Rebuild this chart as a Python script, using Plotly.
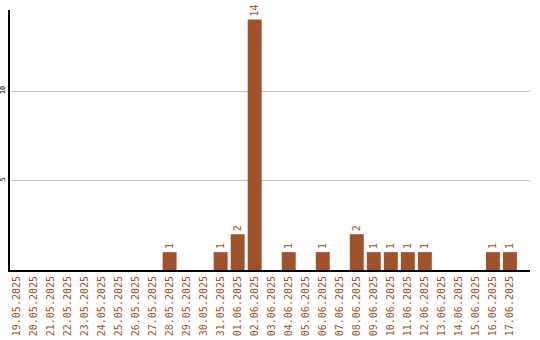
import plotly.graph_objects as go

dates = ["19.05.2025","20.05.2025","21.05.2025","22.05.2025","23.05.2025","24.05.2025",
         "25.05.2025","26.05.2025","27.05.2025","28.05.2025","29.05.2025","30.05.2025",
         "31.05.2025","01.06.2025","02.06.2025","03.06.2025","04.06.2025","05.06.2025",
         "06.06.2025","07.06.2025","08.06.2025","09.06.2025","10.06.2025","11.06.2025",
         "12.06.2025","13.06.2025","14.06.2025","15.06.2025","16.06.2025","17.06.2025"]
counts = [0,0,0,0,0,0,0,0,0,1,0,0,1,2,14,0,1,0,1,0,2,1,1,1,1,0,0,0,1,1]
labels = [str(v) if v else "" for v in counts]

color = "#A0522D"
mono = "DejaVu Sans Mono"

fig = go.Figure(go.Bar(
    x=dates, y=counts, marker_color=color, marker_line_width=0,
    text=labels, textposition="outside", textangle=-90, cliponaxis=False,
    constraintext="none", textfont=dict(family=mono, size=10, color=color),
))
fig.update_layout(
    width=540, height=340, margin=dict(l=10, r=10, t=10, b=70),
    paper_bgcolor="white", plot_bgcolor="white", bargap=0.18, showlegend=False,
)
fig.update_xaxes(
    type="category", range=[-0.38, 30.18], tickangle=-90, automargin=False,
    tickfont=dict(family=mono, size=10, color=color),
    showline=True, linecolor="black", linewidth=2, showgrid=False, ticks="",
)
fig.update_yaxes(
    range=[0, 14.53], tickvals=[5, 10], tickangle=-90, automargin=False,
    tickfont=dict(family=mono, size=7, color="black"),
    showline=True, linecolor="black", linewidth=2,
    showgrid=True, gridcolor="#c8c8c8", gridwidth=1, zeroline=False, ticks="",
)
fig.write_html("out.html")
